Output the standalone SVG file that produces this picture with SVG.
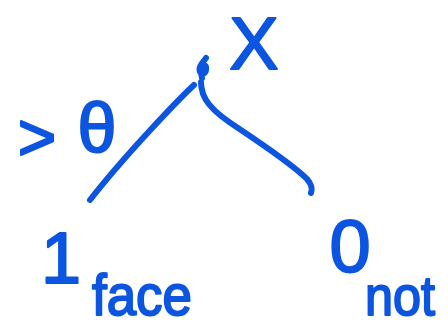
<svg xmlns="http://www.w3.org/2000/svg" width="448" height="329" viewBox="0 0 448 329">
<style>
.ink{fill:none;stroke:#0b55e0;stroke-width:6;stroke-linecap:round;stroke-linejoin:round}
.t{font-family:"Liberation Sans",Arial,sans-serif;fill:#0b55e0;stroke:#0b55e0;stroke-width:2;stroke-linejoin:round;text-anchor:middle}
</style>
<rect width="448" height="329" fill="#ffffff"/>
<g id="root">
<path class="ink" d="M206,58 C203,62 198,67 200,72 C202,76 207,73 206,67 C205,63 201,67 201,73 L202,78"/>
</g>
<g id="connectors">
<path class="ink" d="M194,85 C180,98 125,155 90,200"/>
<path class="ink" d="M201,82 C201,98 210,110 238,128 C268,148 298,170 307,179 C313,186 312,190 311,193"/>
</g>
<g id="label-input">
<text class="t" x="254" y="69" font-size="74">X</text>
</g>
<g id="label-threshold">
<text class="t" x="37" y="160" font-size="66">&gt;</text>
<text class="t" x="97" y="152" font-size="70">θ</text>
</g>
<g id="leaf-face">
<text class="t" x="61" y="283" font-size="72">1</text>
<text class="t" x="142" y="315" font-size="58" textLength="100" lengthAdjust="spacingAndGlyphs">face</text>
</g>
<g id="leaf-not">
<text class="t" x="400" y="315" font-size="56" textLength="70" lengthAdjust="spacingAndGlyphs">not</text>
<text class="t" x="350" y="272" font-size="74">0</text>
</g>
</svg>
